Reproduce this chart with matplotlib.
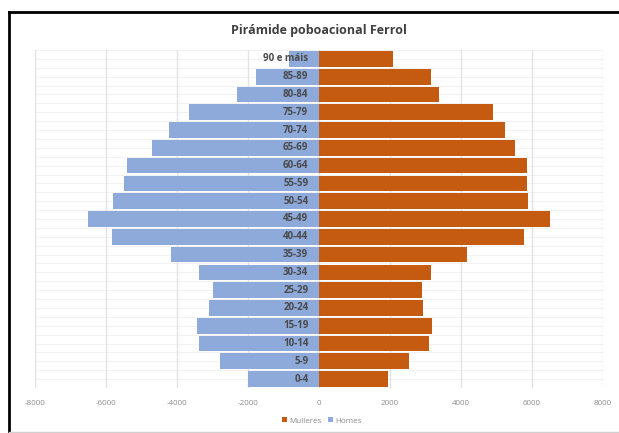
import numpy as np
import matplotlib
matplotlib.use("Agg")
import matplotlib.pyplot as plt
from matplotlib.lines import Line2D

# age groups from youngest to oldest
grupos = ["0-4", "5-9", "10-14", "15-19", "20-24", "25-29", "30-34", "35-39",
          "40-44", "45-49", "50-54", "55-59", "60-64", "65-69", "70-74",
          "75-79", "80-84", "85-89", "90 e máis"]
homes = [2010, 2790, 3390, 3440, 3090, 2980, 3370, 4180, 5840, 6510,
         5790, 5500, 5420, 4700, 4220, 3670, 2300, 1760, 840]
mulleres = [1940, 2540, 3100, 3190, 2940, 2890, 3170, 4170, 5770, 6500,
            5880, 5860, 5860, 5520, 5240, 4890, 3390, 3170, 2100]
xticks = [-8000, -6000, -4000, -2000, 0, 2000, 4000, 6000, 8000]

azul = "#8eaadb"
laranxa = "#c55a11"

plt.rcParams["font.family"] = ["Open Sans", "DejaVu Sans"]

fig = plt.figure(figsize=(6.19, 4.33), dpi=100)
ax = fig.add_axes([0.0565, 0.104, 0.9175, 0.7805])

y = np.arange(len(grupos))

# faint background lines
for yy in np.arange(-0.5, len(grupos), 0.5):
    ax.axhline(yy, color="#f2f2f2", lw=0.8, zorder=0)
for xx in xticks:
    ax.axvline(xx, color="#e3e3e3", lw=1, zorder=0.5)

ax.barh(y, mulleres, height=0.88, color=laranxa, label="Mulleres", zorder=2)
ax.barh(y, [-h for h in homes], height=0.88, color=azul, label="Homes", zorder=2)

for yi, g in zip(y, grupos):
    ax.text(-300, yi, g, ha="right", va="center", fontsize=7,
            fontweight="bold", color="#4a4a4a", zorder=3)

ax.set_xlim(-8000, 8000)
ax.set_ylim(-0.5, len(grupos) - 0.5)
ax.set_xticks(xticks)
ax.set_xticklabels([str(t) for t in xticks], fontsize=5.8, color="#8c8c8c")
ax.set_yticks([])
ax.tick_params(axis="x", length=0, pad=9)
for s in ax.spines.values():
    s.set_visible(False)

fig.text(0.515, 0.93, "Pirámide poboacional Ferrol", ha="center", va="center",
         fontsize=9, fontweight="bold", color="#404040")

h, l = ax.get_legend_handles_labels()
fig.legend(h, l, loc="center", bbox_to_anchor=(0.52, 0.028), ncol=2,
           frameon=False, fontsize=5.8, handlelength=0.6, handleheight=0.6,
           columnspacing=0.8, handletextpad=0.3, labelcolor="#8c8c8c")

# frame around the chart: dark top and left, faint bottom
x0 = 9 / 619
ytop = 1 - 12 / 433
fig.add_artist(Line2D([x0, 1], [ytop, ytop], color="black", lw=2))
fig.add_artist(Line2D([x0, x0], [0, ytop], color="black", lw=2))
fig.add_artist(Line2D([x0, 1], [0.003, 0.003], color="#d0d0d0", lw=1))

fig.savefig("out.png", dpi=100)
